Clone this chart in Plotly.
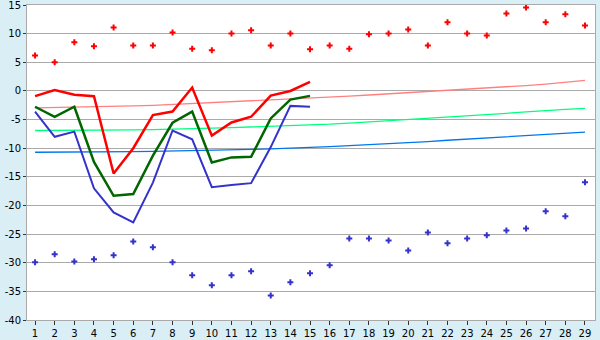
import plotly.graph_objects as go

days = list(range(1, 30))
days_obs = list(range(1, 16))

# Daily extremes (markers)
abs_max = [6.2, 5.0, 8.5, 7.8, 11.1, 7.95, 7.95, 10.2, 7.4, 7.1, 10.05, 10.6, 7.95, 10.05, 7.3,
           7.95, 7.4, 9.9, 10.05, 10.75, 7.95, 12.0, 10.05, 9.7, 13.55, 14.6, 12.0, 13.4, 11.45]
abs_min = [-29.9, -28.5, -29.8, -29.4, -28.7, -26.3, -27.3, -29.9, -32.2, -33.95, -32.2, -31.5, -35.7,
           -33.4, -31.85, -30.45, -25.75, -25.75, -26.1, -27.85, -24.7, -26.6, -25.75, -25.2, -24.35,
           -24.0, -21.0, -21.9, -15.95]

# Observed values (thick lines)
obs_max = [-0.9, 0.15, -0.65, -0.9, -14.4, -10.0, -4.2, -3.6, 0.6, -7.8, -5.5, -4.5, -0.8, 0.0, 1.6]
obs_mean = [-2.75, -4.5, -2.75, -12.4, -18.3, -18.0, -11.3, -5.55, -3.6, -12.5, -11.6, -11.5, -4.8, -1.5, -0.85]
obs_min = [-3.6, -8.0, -7.1, -17.0, -21.2, -22.95, -16.0, -6.9, -8.45, -16.8, -16.4, -16.1, -9.8, -2.6, -2.75]

# Normal values (thin lines)
norm_max = [-2.95, -2.9, -2.85, -2.8, -2.7, -2.6, -2.5, -2.35, -2.2, -2.05, -1.9, -1.75, -1.55, -1.4,
            -1.2, -1.05, -0.9, -0.7, -0.5, -0.35, -0.15, 0.05, 0.25, 0.45, 0.7, 0.95, 1.2, 1.5, 1.85]
norm_mean = [-6.9, -6.9, -6.85, -6.85, -6.8, -6.8, -6.75, -6.7, -6.6, -6.5, -6.4, -6.3, -6.2, -6.05,
             -5.95, -5.8, -5.6, -5.4, -5.2, -5.0, -4.8, -4.55, -4.35, -4.1, -3.9, -3.65, -3.4, -3.2, -3.05]
norm_min = [-10.7, -10.7, -10.65, -10.65, -10.6, -10.6, -10.55, -10.5, -10.45, -10.4, -10.3, -10.2,
            -10.1, -10.0, -9.85, -9.7, -9.55, -9.4, -9.25, -9.05, -8.85, -8.6, -8.4, -8.2, -8.0, -7.8,
            -7.6, -7.4, -7.2]

y_ticks = [15, 10, 5, 0, -5, -10, -15, -20, -25, -30, -35, -40]
y_labels = ["15", "10", "5", "0", "-5", "-10", "-15", "-20", "-25", "-30", "-35", "-40"]
x_labels = [str(d) for d in days]

fig = go.Figure()
fig.add_trace(go.Scatter(x=days, y=norm_max, mode="lines", line=dict(color="#ff8080", width=1.3)))
fig.add_trace(go.Scatter(x=days, y=norm_mean, mode="lines", line=dict(color="#00ff80", width=1.3)))
fig.add_trace(go.Scatter(x=days, y=norm_min, mode="lines", line=dict(color="#0077ee", width=1.3)))
fig.add_trace(go.Scatter(x=days_obs, y=obs_min, mode="lines", line=dict(color="#3333cc", width=2)))
fig.add_trace(go.Scatter(x=days_obs, y=obs_mean, mode="lines", line=dict(color="#006600", width=2.5)))
fig.add_trace(go.Scatter(x=days_obs, y=obs_max, mode="lines", line=dict(color="#ff0000", width=2.5)))
fig.add_trace(go.Scatter(x=days, y=abs_max, mode="markers",
                         marker=dict(symbol="cross", size=5, color="#ff0000", line=dict(width=0))))
fig.add_trace(go.Scatter(x=days, y=abs_min, mode="markers",
                         marker=dict(symbol="cross", size=5, color="#3333cc", line=dict(width=0))))

fig.update_layout(
    width=600, height=340,
    margin=dict(l=27, r=5, t=5, b=20, autoexpand=False),
    paper_bgcolor="#d9eef5",
    plot_bgcolor="#ffffff",
    showlegend=False,
    font=dict(family="DejaVu Sans", size=10, color="#000000"),
)
fig.update_xaxes(
    range=[0.59, 29.51], tickvals=days, ticktext=x_labels,
    showgrid=False, zeroline=False, automargin=False,
    showline=True, linecolor="#aaaaaa", linewidth=1, mirror=True,
    ticks="outside", ticklen=4, tickcolor="#333333",
    ticklabeloverflow="allow",
)
fig.update_yaxes(
    range=[-40, 15.02], tickvals=y_ticks, ticktext=y_labels,
    showgrid=True, gridcolor="#aaaaaa", gridwidth=1, zeroline=False, automargin=False,
    showline=True, linecolor="#aaaaaa", linewidth=1, mirror=True,
    ticks="outside", ticklen=3, tickcolor="#333333",
    ticklabeloverflow="allow",
)

fig.write_html("out.html")
